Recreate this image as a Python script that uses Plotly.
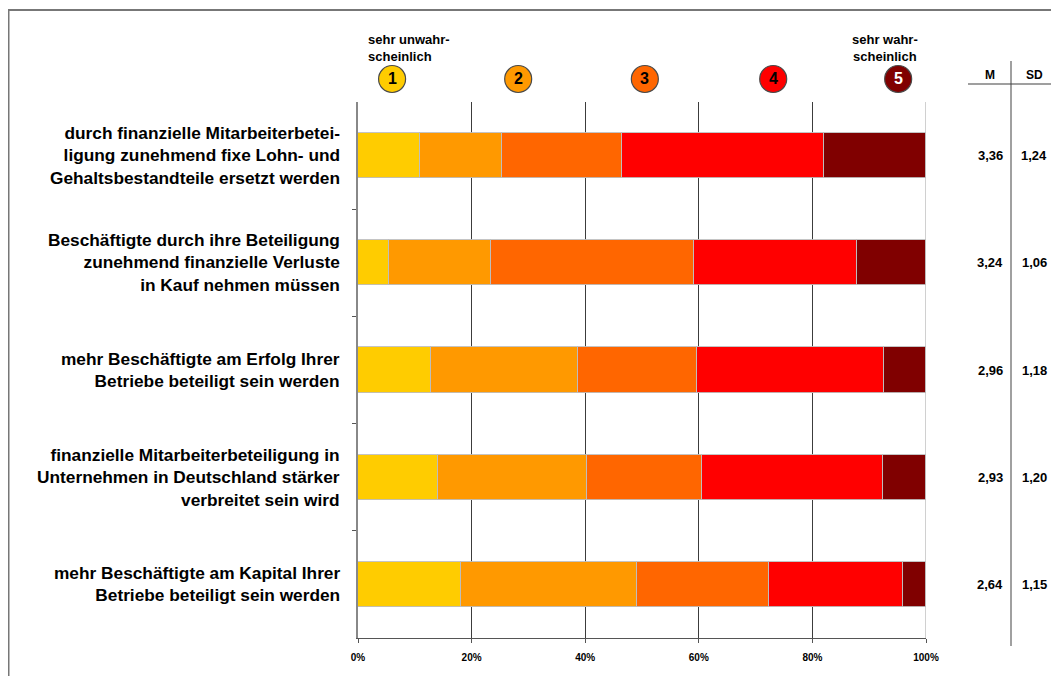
import plotly.graph_objects as go

# ---------------- data ----------------
statements = [
    "durch finanzielle Mitarbeiterbetei-<br>ligung zunehmend fixe Lohn- und<br>Gehaltsbestandteile ersetzt werden",
    "Beschäftigte durch ihre Beteiligung<br>zunehmend finanzielle Verluste<br>in Kauf nehmen müssen",
    "mehr Beschäftigte am Erfolg Ihrer<br>Betriebe beteiligt sein werden",
    "finanzielle Mitarbeiterbeteiligung in<br>Unternehmen in Deutschland stärker<br>verbreitet sein wird",
    "mehr Beschäftigte am Kapital Ihrer<br>Betriebe beteiligt sein werden",
]
scale_points = ["1", "2", "3", "4", "5"]
pct_1 = [11.0, 5.5, 12.8, 14.0, 18.2]
pct_2 = [14.3, 18.0, 26.0, 26.3, 31.0]
pct_3 = [21.1, 35.7, 20.9, 20.2, 23.2]
pct_4 = [35.7, 28.6, 32.9, 32.0, 23.6]
pct_5 = [17.9, 12.2, 7.4, 7.5, 4.0]
means = ["3,36", "3,24", "2,96", "2,93", "2,64"]
sds = ["1,24", "1,06", "1,18", "1,20", "1,15"]
x_ticks = [0, 20, 40, 60, 80, 100]
x_ticklabels = ["0%", "20%", "40%", "60%", "80%", "100%"]
low_label = "sehr unwahr-<br>scheinlich"
high_label = "sehr wahr-<br>scheinlich"

# ---------------- styles ----------------
colors = ["#FFCC00", "#FF9900", "#FF6600", "#FF0000", "#800000"]
FONT = "Liberation Sans, Arial, sans-serif"
OFF = 8  # page body margin
W, H = 1059 - OFF, 684 - 2 * OFF
# plot area in screen pixels
L, R, T, B = 358, 926, 102, 638


def px(x):
    return (x - L) / (R - L)


def py(y):
    return (B - y) / (B - T)


ypos = list(range(len(statements)))
series = [pct_1, pct_2, pct_3, pct_4, pct_5]

fig = go.Figure()
for i, vals in enumerate(series):
    fig.add_trace(go.Bar(
        x=vals, y=ypos, orientation="h", name=scale_points[i],
        marker=dict(color=colors[i], line=dict(color="rgba(190,190,190,0.9)", width=1)),
        width=0.42, showlegend=False, hoverinfo="x",
    ))

annotations = []
for i, s in enumerate(statements):
    annotations.append(dict(
        x=px(342), xref="paper", y=ypos[i], yref="y", text=s, showarrow=False,
        xanchor="right", yanchor="middle", align="right",
        font=dict(family=FONT, size=17.3, color="#000000", weight="bold"),
    ))
    annotations.append(dict(
        x=px(990), xref="paper", y=ypos[i], yref="y", text=means[i], showarrow=False,
        xanchor="center", yanchor="middle",
        font=dict(family=FONT, size=13, color="#000000", weight="bold"),
    ))
    annotations.append(dict(
        x=px(1034), xref="paper", y=ypos[i], yref="y", text=sds[i], showarrow=False,
        xanchor="center", yanchor="middle",
        font=dict(family=FONT, size=13, color="#000000", weight="bold"),
    ))

annotations.append(dict(x=px(990), xref="paper", y=py(75), yref="paper", text="M",
                        showarrow=False, xanchor="center", yanchor="middle",
                        font=dict(family=FONT, size=12, color="#000", weight="bold")))
annotations.append(dict(x=px(1034), xref="paper", y=py(75), yref="paper", text="SD",
                        showarrow=False, xanchor="center", yanchor="middle",
                        font=dict(family=FONT, size=12, color="#000", weight="bold")))

annotations.append(dict(x=px(366), xref="paper", y=py(48), yref="paper", text=low_label,
                        showarrow=False, xanchor="left", yanchor="middle", align="left",
                        font=dict(family=FONT, size=13, color="#000", weight="bold")))
annotations.append(dict(x=px(920), xref="paper", y=py(48), yref="paper", text=high_label,
                        showarrow=False, xanchor="right", yanchor="middle", align="center",
                        font=dict(family=FONT, size=13, color="#000", weight="bold")))

shapes = []
circle_x = [6.0, 28.2, 50.5, 73.1, 95.1]
for i, cx in enumerate(circle_x):
    shapes.append(dict(
        type="circle", xref="x", yref="paper", xsizemode="pixel", ysizemode="pixel",
        xanchor=cx, yanchor=py(79), x0=-13.5, x1=13.5, y0=-13.5, y1=13.5,
        fillcolor=colors[i], line=dict(color="#4a4a4a", width=1.2), layer="above",
    ))
    annotations.append(dict(
        x=cx, xref="x", y=py(79), yref="paper", text=scale_points[i], showarrow=False,
        xanchor="center", yanchor="middle",
        font=dict(family=FONT, size=16, color="#FFFFFF" if i == 4 else "#000000", weight="bold"),
    ))

shapes.append(dict(type="line", xref="x", yref="paper", x0=100, x1=100, y0=0, y1=1,
                   line=dict(color="#c0c0c0", width=1.5), layer="above"))
shapes.append(dict(type="line", xref="paper", yref="paper", x0=px(1011), x1=px(1011),
                   y0=py(61), y1=py(646), line=dict(color="#808080", width=1.5)))
shapes.append(dict(type="line", xref="paper", yref="paper", x0=px(968), x1=px(1054),
                   y0=py(84), y1=py(84), line=dict(color="#404040", width=1.2)))
# outer frame: left and top edges
shapes.append(dict(type="line", xref="paper", yref="paper", x0=px(8.5), x1=px(8.5),
                   y0=py(700), y1=py(10), line=dict(color="#777777", width=2)))
shapes.append(dict(type="line", xref="paper", yref="paper", x0=px(7.5), x1=px(1080),
                   y0=py(10), y1=py(10), line=dict(color="#777777", width=2)))

fig.update_layout(
    barmode="stack",
    width=W, height=H,
    margin=dict(l=L - OFF, r=W - (R - OFF), t=T - OFF, b=H - (B - OFF), pad=0),
    paper_bgcolor="white", plot_bgcolor="white",
    xaxis=dict(
        range=[0, 100], tickvals=x_ticks, ticktext=x_ticklabels,
        showgrid=True, gridcolor="#3c3c3c", gridwidth=1,
        showline=True, linecolor="#555555", linewidth=1.2,
        ticks="outside", ticklen=4, tickcolor="#555555",
        ticklabelstandoff=6,
        tickfont=dict(family=FONT, size=10, color="#000", weight="bold"),
        zeroline=False, fixedrange=True,
    ),
    yaxis=dict(
        range=[len(statements) - 0.5, -0.5],
        tickvals=[k + 0.5 for k in range(len(statements) - 1)],
        showticklabels=False, showgrid=False, zeroline=False,
        showline=True, linecolor="#888888", linewidth=1.5,
        ticks="outside", ticklen=4, tickcolor="#555555", fixedrange=True,
    ),
    annotations=annotations,
    shapes=shapes,
    bargap=0,
)

fig.write_html("out.html")
